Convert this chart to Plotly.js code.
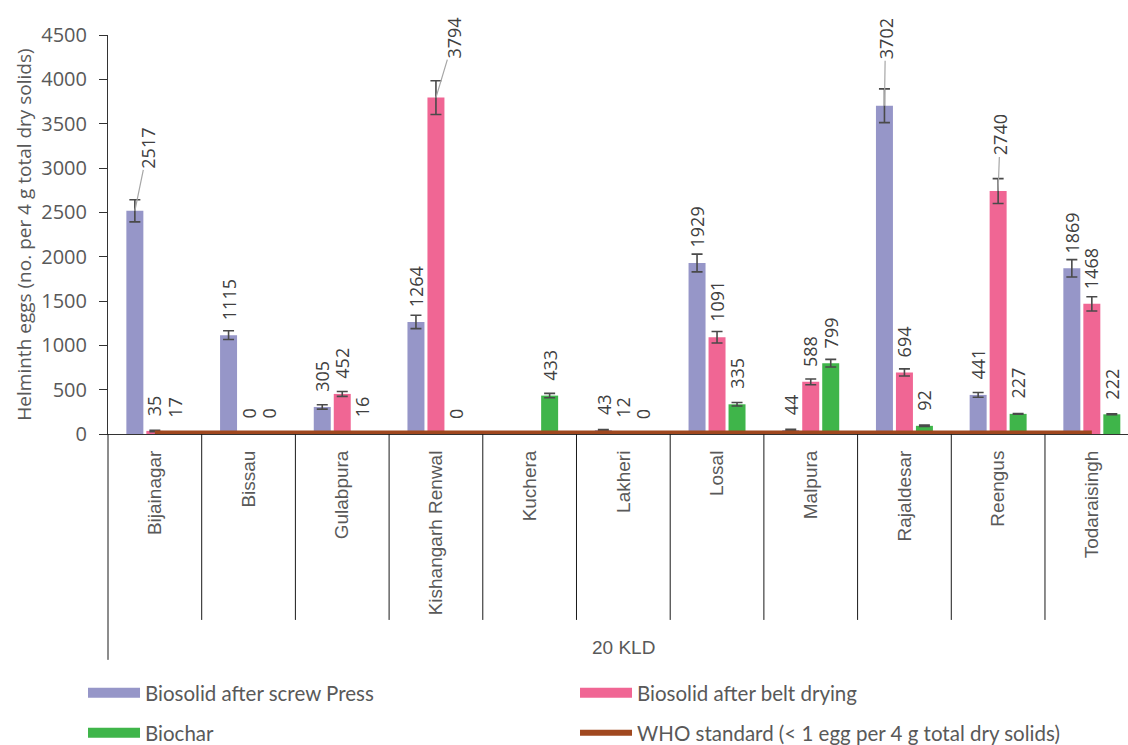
<!DOCTYPE html>
<html>
<head>
<meta charset="utf-8">
<script src="https://cdn.plot.ly/plotly-3.0.1.min.js"></script>
<style>html,body{margin:0;padding:0;background:#fff;overflow:hidden}</style>
</head>
<body>
<div id="chart" style="width:1128px;height:745px"></div>
<script>
// ---- data ----
const categories = ["Bijainagar","Bissau","Gulabpura","Kishangarh Renwal","Kuchera","Lakheri","Losal","Malpura","Rajaldesar","Reengus","Todaraisingh"];
const screwPress = [2517,1115,305,1264,null,43,1929,44,3702,441,1869];
const screwPressErr = [125,50,25,75,null,8,100,8,190,27,98];
const beltDrying = [35,0,452,3794,null,12,1091,588,694,2740,1468];
const beltDryingErr = [8,0,28,190,null,3,65,33,40,140,80];
const biochar = [17,0,16,0,433,0,335,799,92,227,222];
const biocharErr = [3,0,3,0,25,0,20,43,8,5,5];
const whoStandard = [1,1,1,1,1,1,1,1,1,1,1];
const seriesNames = ["Biosolid after screw Press","Biosolid after belt drying","Biochar","WHO standard (< 1 egg per 4 g total dry solids)"];
const groupLabel = "20 KLD";
const yTitle = "Helminth eggs (no. per 4 g total dry solids)";

// ---- style ----
const colors = ["#9696C8","#F06694","#3FB54A","#A0481F"];
const xmin = -0.5, xmax = 10.386;
const slotPx = 20;
const errStyle = {type:"data", visible:true, color:"#4a4a4a", thickness:1.6, width:5.5};

const series = [
  {y: screwPress, err: screwPressErr},
  {y: beltDrying, err: beltDryingErr},
  {y: biochar, err: biocharErr}
];

const traces = series.map((s,i) => ({
  type:"bar", x:categories, y:s.y, name:seriesNames[i], showlegend:false,
  marker:{color:colors[i]},
  error_y:Object.assign({array:s.err}, errStyle),
  hoverinfo:"x+y"
}));
traces.push({
  type:"scatter", mode:"lines", x:categories, y:whoStandard, name:seriesNames[3],
  showlegend:false, cliponaxis:false, line:{color:colors[3], width:7}
});
// legend swatches
const legendWidths = [11,11,11,6];
const legendOf = ["legend","legend","legend2","legend2"];
seriesNames.forEach((n,i) => {
  traces.push({type:"scatter", mode:"lines", x:[null], y:[null], name:n,
    line:{color:colors[i], width:legendWidths[i]}, legend:legendOf[i], hoverinfo:"skip"});
});

// data label annotations
const leader = { // labels drawn with leader lines: "series-category" -> [ax, ay] in px
  "0-0":[13,-63], "1-3":[18,-60], "0-8":[1,-67], "1-9":[2,-56]
};
const annotations = [];
series.forEach((s,i) => {
  s.y.forEach((v,j) => {
    if (v === null) return;
    const key = i + "-" + j;
    const base = {x:categories[j], y:v, xref:"x", yref:"y", text:String(v), textangle:-90,
      xshift:(i-1)*slotPx, font:{family:"Open Sans, DejaVu Sans, sans-serif", size:18, color:"#404040"}};
    if (leader[key]) {
      annotations.push(Object.assign(base, {showarrow:true, arrowhead:0, arrowwidth:1.2, arrowcolor:"#A6A6A6",
        ax:leader[key][0], ay:leader[key][1], standoff:0}));
    } else {
      annotations.push(Object.assign(base, {showarrow:false, yanchor:"bottom", yshift:13}));
    }
  });
});
annotations.push({xref:"paper", yref:"paper", x:(5-xmin)/(xmax-xmin), y:-0.536, yanchor:"middle", text:groupLabel,
  showarrow:false, font:{family:"Liberation Sans, Arial, sans-serif", size:19, color:"#595959"}});

// category dividers
const shapes = [];
for (let k=0; k<=categories.length; k++) {
  const xp = (k-0.5-xmin)/(xmax-xmin);
  if (xp > 1) continue;
  shapes.push({type:"line", xref:"paper", yref:"paper", x0:xp, x1:xp, y0:0, y1:(k===0?-0.566:-0.466),
    line:{color:"#1a1a1a", width:1}});
}

const legendBase = {orientation:"h", x:-0.0245, xanchor:"left", yanchor:"middle", entrywidth:425,
  itemwidth:52, font:{family:"Lato, sans-serif", size:20.5, color:"#595959"}, bgcolor:"rgba(0,0,0,0)", itemclick:false};

const layout = {
  width:1128, height:745,
  margin:{l:108, r:0, t:35, b:311, autoexpand:false},
  paper_bgcolor:"#fff", plot_bgcolor:"#fff",
  barmode:"group", bargap:0.36, bargroupgap:0.15,
  font:{family:"Open Sans, sans-serif", color:"#595959"},
  xaxis:{type:"category", range:[xmin,xmax], showline:true, linecolor:"#333", linewidth:1, automargin:false,
    ticks:"", tickangle:-90, ticklabelstandoff:8, showgrid:false, zeroline:false,
    tickfont:{family:"Liberation Sans, Arial, sans-serif", size:19, color:"#595959"}},
  yaxis:{range:[0,4500], dtick:500, showline:true, linecolor:"#333", linewidth:1, automargin:false,
    ticks:"outside", ticklen:8, tickcolor:"#333", ticklabelstandoff:8, showgrid:false, zeroline:false,
    tickfont:{family:"Open Sans, sans-serif", size:20, color:"#595959"},
    title:{text:yTitle, standoff:4, font:{family:"Open Sans, sans-serif", size:19, color:"#595959"}}},
  legend:Object.assign({y:-0.649}, legendBase),
  legend2:Object.assign({y:-0.749}, legendBase),
  annotations:annotations,
  shapes:shapes
};

Plotly.newPlot("chart", traces, layout, {displayModeBar:false, staticPlot:true});
</script>
</body>
</html>
